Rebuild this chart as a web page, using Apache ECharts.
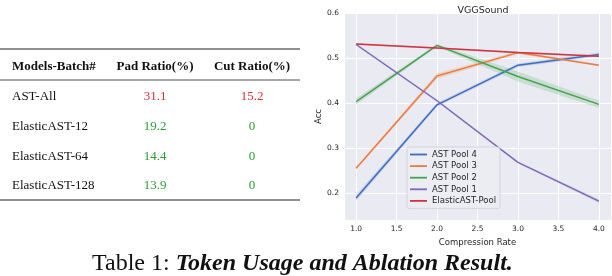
<!DOCTYPE html>
<html><head><meta charset="utf-8">
<script src="https://cdn.jsdelivr.net/npm/echarts@6/dist/echarts.min.js"></script>
<style>html,body{margin:0;padding:0;background:#fff}#c{width:612px;height:276px}</style>
</head><body><div id="c"></div>
<script>
// ---- chart data ----
const compression = [1.0, 2.0, 3.0, 4.0];
const pool4 = [0.189, 0.396, 0.484, 0.508];
const pool3 = [0.255, 0.460, 0.512, 0.484];
const pool2 = [0.403, 0.528, 0.459, 0.397];
const pool1 = [0.530, 0.405, 0.268, 0.182];
const elastic = [0.531, 0.522, 0.512, 0.504];
// confidence band half widths
const band4 = [0.007, 0.004, 0.004, 0.004];
const band3 = [0.003, 0.006, 0.003, 0.002];
const band2 = [0.007, 0.003, 0.011, 0.008];
const band1 = [0.002, 0.002, 0.002, 0.004];
const bandE = [0.002, 0.002, 0.002, 0.002];
const seriesNames = ['AST Pool 4', 'AST Pool 3', 'AST Pool 2', 'AST Pool 1', 'ElasticAST-Pool'];
// ---- table data ----
const tableHeader = ['Models-Batch#', 'Pad Ratio(%)', 'Cut Ratio(%)'];
const tableModels = ['AST-All', 'ElasticAST-12', 'ElasticAST-64', 'ElasticAST-128'];
const padRatio = ['31.1', '19.2', '14.4', '13.9'];
const cutRatio = ['15.2', '0', '0', '0'];
const captionPrefix = 'Table 1: ';
const captionMain = 'Token Usage and Ablation Result.';

const colors = ['#3d6dc3', '#ec7b3c', '#44a350', '#7d6ab8', '#d0343c'];
const lineData = [pool4, pool3, pool2, pool1, elastic];
const bandData = [band4, band3, band2, band1, bandE];

const chart = echarts.init(document.getElementById('c'), null, {renderer: 'canvas'});

const series = [];
lineData.forEach((vals, i) => {
  const bw = bandData[i];
  series.push({
    type: 'custom', name: seriesNames[i] + ' band', silent: true, z: 1,
    data: [[compression[0], vals[0]]],
    renderItem: function (params, api) {
      const pts = [];
      for (let k = 0; k < compression.length; k++) pts.push(api.coord([compression[k], vals[k] + bw[k]]));
      for (let k = compression.length - 1; k >= 0; k--) pts.push(api.coord([compression[k], vals[k] - bw[k]]));
      return {type: 'polygon', shape: {points: pts}, style: {fill: colors[i], opacity: 0.2}};
    }
  });
});
lineData.forEach((vals, i) => {
  series.push({
    type: 'line', name: seriesNames[i], z: 3,
    data: compression.map((x, k) => [x, vals[k]]),
    showSymbol: false, symbol: 'none',
    lineStyle: {color: colors[i], width: 1.5},
    itemStyle: {color: colors[i]}
  });
});

const serif = 'Liberation Serif';
const graphics = [];
const ruleL = 0, ruleR = 300;
[[49, 1.2], [80, 0.8], [200, 1.2]].forEach(([y, w]) => {
  graphics.push({type: 'line', shape: {x1: ruleL, y1: y, x2: ruleR, y2: y}, style: {stroke: '#222', lineWidth: w}});
});
const colX = [12, 155, 252];
tableHeader.forEach((h, j) => {
  graphics.push({type: 'text', x: colX[j], y: 67, style: {text: h, font: 'bold 13px ' + serif, fill: '#111', align: j === 0 ? 'left' : 'center', verticalAlign: 'middle'}});
});
const rowY = [97, 127, 157, 186];
tableModels.forEach((m, r) => {
  const c = r === 0 ? '#c8373a' : '#2f9a35';
  graphics.push({type: 'text', x: colX[0], y: rowY[r], style: {text: m, font: '13px ' + serif, fill: '#111', align: 'left', verticalAlign: 'middle'}});
  graphics.push({type: 'text', x: colX[1], y: rowY[r], style: {text: padRatio[r], font: '13px ' + serif, fill: c, align: 'center', verticalAlign: 'middle'}});
  graphics.push({type: 'text', x: colX[2], y: rowY[r], style: {text: cutRatio[r], font: '13px ' + serif, fill: c, align: 'center', verticalAlign: 'middle'}});
});
graphics.push({type: 'text', x: 92, y: 264, style: {
  text: '{a|' + captionPrefix + '}{b|' + captionMain + '}',
  rich: {a: {font: '24px ' + serif, fill: '#111'}, b: {font: 'italic bold 24px ' + serif, fill: '#111'}},
  verticalAlign: 'middle'
}});

chart.setOption({
  animation: false,
  backgroundColor: '#ffffff',
  title: {text: 'VGGSound', left: 478, top: 1, textAlign: 'center',
    textStyle: {fontFamily: 'DejaVu Sans', fontSize: 9.5, fontWeight: 'normal', color: '#262626'}},
  grid: {left: 344, top: 13, width: 267, height: 207, backgroundColor: '#eaeaf2', show: true, borderWidth: 0},
  legend: {
    data: seriesNames, orient: 'vertical', left: 407, top: 147,
    icon: 'rect', itemWidth: 17, itemHeight: 1.8, itemGap: 0.6,
    padding: [2, 4, 2, 3], backgroundColor: 'rgba(236,236,243,0.85)', borderColor: '#cfcfd8', borderWidth: 0.8, borderRadius: 2,
    textStyle: {fontFamily: 'DejaVu Sans', fontSize: 8.5, color: '#262626', lineHeight: 11},
    selectedMode: false
  },
  xAxis: {
    type: 'value', min: 0.85, max: 4.15, splitNumber: 6,
    name: 'Compression Rate', nameLocation: 'middle', nameGap: 15,
    nameTextStyle: {fontFamily: 'DejaVu Sans', fontSize: 8.5, color: '#262626'},
    axisLine: {show: false}, axisTick: {show: false},
    axisLabel: {showMinLabel: false, showMaxLabel: false, fontFamily: 'DejaVu Sans', fontSize: 7.5, color: '#262626', margin: 5,
      formatter: v => v.toFixed(1)},
    splitLine: {show: true, lineStyle: {color: '#ffffff', width: 1}}
  },
  yAxis: {
    type: 'value', min: 0.14, max: 0.6, splitNumber: 5,
    name: 'Acc', nameLocation: 'middle', nameGap: 20, nameRotate: 90,
    nameTextStyle: {fontFamily: 'DejaVu Sans', fontSize: 8.5, color: '#262626'},
    axisLine: {show: false}, axisTick: {show: false},
    axisLabel: {showMinLabel: false, fontFamily: 'DejaVu Sans', fontSize: 7.5, color: '#262626', margin: 5,
      formatter: v => v.toFixed(1)},
    splitLine: {show: true, lineStyle: {color: '#ffffff', width: 1}}
  },
  graphic: graphics,
  series: series
});
</script></body></html>
